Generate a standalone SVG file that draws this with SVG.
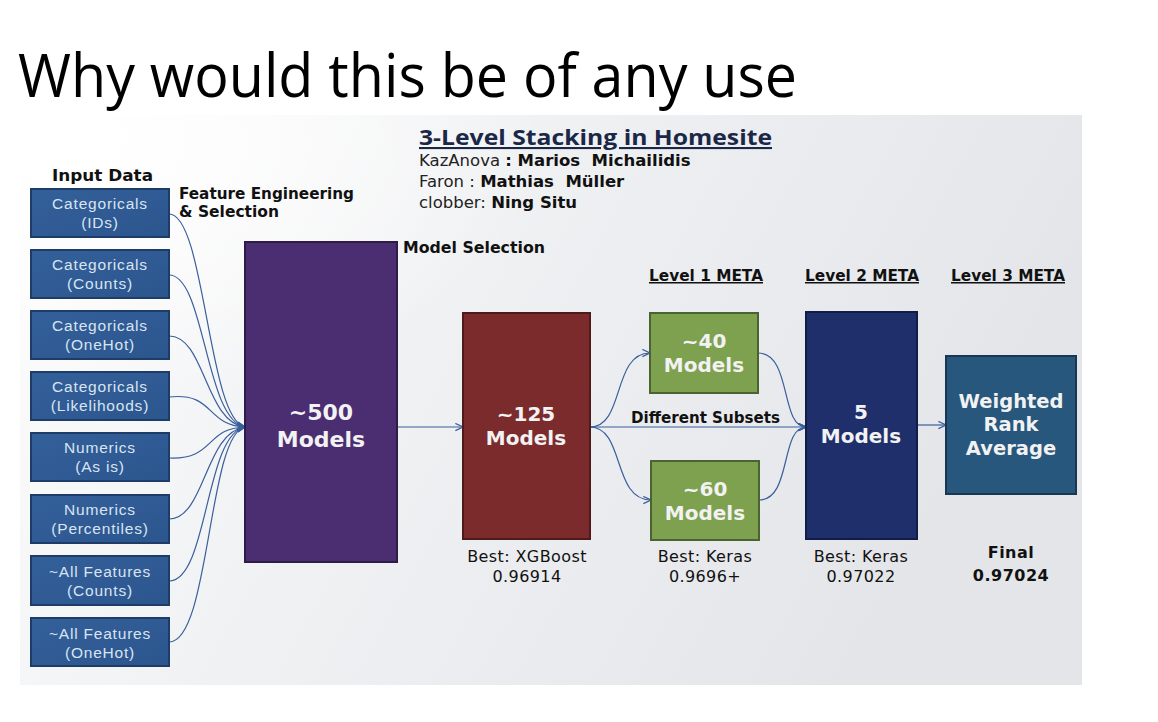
<svg xmlns="http://www.w3.org/2000/svg" width="1158" height="722" viewBox="0 0 1158 722">
  <defs>
    <linearGradient id="panelGrad" x1="0" y1="0" x2="1" y2="0.3">
      <stop offset="0" stop-color="#fdfdfd"/>
      <stop offset="0.45" stop-color="#f0f1f3"/>
      <stop offset="1" stop-color="#e3e5e9"/>
    </linearGradient>
    <radialGradient id="panelFade" cx="0.05" cy="0.05" r="0.45">
      <stop offset="0" stop-color="#ffffff" stop-opacity="1"/>
      <stop offset="1" stop-color="#ffffff" stop-opacity="0"/>
    </radialGradient>
    <linearGradient id="inputGrad" x1="0" y1="0" x2="1" y2="1">
      <stop offset="0" stop-color="#34609a"/>
      <stop offset="1" stop-color="#2b558d"/>
    </linearGradient>
    <marker id="arrow" viewBox="0 0 10 10" refX="9.5" refY="5" markerWidth="9" markerHeight="9" markerUnits="userSpaceOnUse" orient="auto">
      <path d="M1,1 L9.5,5 L1,9" fill="none" stroke="#3a5f9c" stroke-width="1.3"/>
    </marker>
    <style>
      .title { font-family: "Open Sans", "Liberation Sans", sans-serif; font-size: 61px; fill: #000; }
      .head { font-family: "Open Sans", "Liberation Sans", sans-serif; font-weight: bold; font-size: 21px; fill: #1b2747; text-decoration: underline; }
      .credit { font-family: "DejaVu Sans", "Liberation Sans", sans-serif; font-size: 16.5px; fill: #222; }
      .credit tspan.b { font-weight: bold; fill: #111; }
      .lbl { font-family: "DejaVu Sans", "Liberation Sans", sans-serif; font-weight: bold; font-size: 15px; fill: #111; }
      .lvl { font-family: "DejaVu Sans", "Liberation Sans", sans-serif; font-weight: bold; font-size: 15px; fill: #111; text-decoration: underline; }
      .score { font-family: "DejaVu Sans", "Liberation Sans", sans-serif; font-size: 16px; fill: #111; text-anchor: middle; letter-spacing: 0.4px; }
      .scoreb { font-family: "DejaVu Sans", "Liberation Sans", sans-serif; font-weight: bold; font-size: 16px; fill: #111; text-anchor: middle; letter-spacing: 0.5px; }
      .inbox { fill: url(#inputGrad); stroke: #1d3d68; stroke-width: 2; }
      .intext { font-family: "Liberation Sans", "Open Sans", sans-serif; font-size: 15.5px; fill: #d9e4f2; text-anchor: middle; letter-spacing: 0.8px; }
      .big { font-family: "DejaVu Sans", "Liberation Sans", sans-serif; font-weight: bold; fill: #f2f2f2; text-anchor: middle; }
      .wire { fill: none; stroke: #3a5f9c; stroke-width: 1.2; }
    </style>
  </defs>

  <rect width="1158" height="722" fill="#ffffff"/>

  <!-- backdrop panel -->
  <rect x="20" y="115" width="1062" height="570" fill="url(#panelGrad)"/>
  <rect x="20" y="115" width="1062" height="570" fill="url(#panelFade)"/>

  <text class="title" x="18" y="97" textLength="779" lengthAdjust="spacingAndGlyphs">Why would this be of any use</text>

  <!-- heading and credits -->
  <text class="head" x="419" y="145" textLength="353" lengthAdjust="spacingAndGlyphs">3-Level Stacking in Homesite</text>
  <text class="credit" x="419" y="166">KazAnova <tspan class="b">: Marios&#160; Michailidis</tspan></text>
  <text class="credit" x="419" y="187">Faron : <tspan class="b">Mathias&#160; Müller</tspan></text>
  <text class="credit" x="419" y="208">clobber: <tspan class="b">Ning Situ</tspan></text>

  <!-- stage labels -->
  <text class="lbl" x="52" y="181" textLength="101" lengthAdjust="spacingAndGlyphs">Input Data</text>
  <text class="lbl" x="179" y="199" textLength="175" lengthAdjust="spacingAndGlyphs">Feature Engineering</text>
  <text class="lbl" x="179" y="217" textLength="100" lengthAdjust="spacingAndGlyphs">&amp; Selection</text>
  <text class="lbl" x="403" y="253" textLength="142" lengthAdjust="spacingAndGlyphs">Model Selection</text>
  <text class="lvl" x="649" y="281" textLength="114" lengthAdjust="spacingAndGlyphs">Level 1 META</text>
  <text class="lvl" x="805" y="281" textLength="114" lengthAdjust="spacingAndGlyphs">Level 2 META</text>
  <text class="lvl" x="951" y="281" textLength="114" lengthAdjust="spacingAndGlyphs">Level 3 META</text>

  <!-- connectors -->
  <g id="connectors">
    <path class="wire" d="M169,214 C205,214 208,420 245,427" marker-end="url(#arrow)"/>
    <path class="wire" d="M169,275 C205,275 205,420 245,427" marker-end="url(#arrow)"/>
    <path class="wire" d="M169,336 C205,336 205,422 245,427" marker-end="url(#arrow)"/>
    <path class="wire" d="M169,397 C215,392 205,425 245,427" marker-end="url(#arrow)"/>
    <path class="wire" d="M169,458 C215,460 205,428 245,427" marker-end="url(#arrow)"/>
    <path class="wire" d="M169,519 C205,519 205,432 245,427" marker-end="url(#arrow)"/>
    <path class="wire" d="M169,581 C208,581 205,434 245,427" marker-end="url(#arrow)"/>
    <path class="wire" d="M169,642 C210,642 208,434 245,427" marker-end="url(#arrow)"/>
    <path class="wire" d="M397,427 L463,427" marker-end="url(#arrow)"/>
    <path class="wire" d="M590,427 C625,427 612,353 650,353" marker-end="url(#arrow)"/>
    <path class="wire" d="M590,427 C625,427 612,500 651,500" marker-end="url(#arrow)"/>
    <path class="wire" d="M590,427 L806,427" marker-end="url(#arrow)"/>
    <path class="wire" d="M758,353 C792,353 780,427 806,427" marker-end="url(#arrow)"/>
    <path class="wire" d="M759,500 C792,500 780,427 806,427" marker-end="url(#arrow)"/>
    <path class="wire" d="M917,425 L946,425" marker-end="url(#arrow)"/>
  </g>
  <text class="lbl" x="631" y="423" font-size="14" textLength="149" lengthAdjust="spacingAndGlyphs">Different Subsets</text>

  <!-- input feature sets -->
  <g id="in-cat-ids">
    <rect class="inbox" x="31" y="189" width="138" height="48"/>
    <text class="intext" x="100" y="209">Categoricals</text>
    <text class="intext" x="100" y="228">(IDs)</text>
  </g>
  <g id="in-cat-counts">
    <rect class="inbox" x="31" y="250" width="138" height="48"/>
    <text class="intext" x="100" y="270">Categoricals</text>
    <text class="intext" x="100" y="289">(Counts)</text>
  </g>
  <g id="in-cat-onehot">
    <rect class="inbox" x="31" y="311" width="138" height="48"/>
    <text class="intext" x="100" y="331">Categoricals</text>
    <text class="intext" x="100" y="350">(OneHot)</text>
  </g>
  <g id="in-cat-likelihoods">
    <rect class="inbox" x="31" y="372" width="138" height="48"/>
    <text class="intext" x="100" y="392">Categoricals</text>
    <text class="intext" x="100" y="411">(Likelihoods)</text>
  </g>
  <g id="in-num-asis">
    <rect class="inbox" x="31" y="433" width="138" height="48"/>
    <text class="intext" x="100" y="453">Numerics</text>
    <text class="intext" x="100" y="472">(As is)</text>
  </g>
  <g id="in-num-pct">
    <rect class="inbox" x="31" y="495" width="138" height="48"/>
    <text class="intext" x="100" y="515">Numerics</text>
    <text class="intext" x="100" y="534">(Percentiles)</text>
  </g>
  <g id="in-all-counts">
    <rect class="inbox" x="31" y="556" width="138" height="49"/>
    <text class="intext" x="100" y="577">~All Features</text>
    <text class="intext" x="100" y="596">(Counts)</text>
  </g>
  <g id="in-all-onehot">
    <rect class="inbox" x="31" y="618" width="138" height="48"/>
    <text class="intext" x="100" y="639">~All Features</text>
    <text class="intext" x="100" y="658">(OneHot)</text>
  </g>

  <!-- model stages -->
  <g id="m500">
    <rect x="245" y="242" width="152" height="320" fill="#4b2d72" stroke="#2e1b48" stroke-width="2"/>
    <text class="big" x="321" y="420" font-size="22">~500</text>
    <text class="big" x="321" y="447" font-size="22">Models</text>
  </g>
  <g id="m125">
    <rect x="463" y="313" width="127" height="226" fill="#7b2b2c" stroke="#4e1a1a" stroke-width="2"/>
    <text class="big" x="526" y="421" font-size="20">~125</text>
    <text class="big" x="526" y="445" font-size="20">Models</text>
  </g>
  <g id="m40">
    <rect x="650" y="313" width="108" height="80" fill="#7ea150" stroke="#4a6330" stroke-width="2"/>
    <text class="big" x="704" y="348" font-size="20">~40</text>
    <text class="big" x="704" y="372" font-size="20">Models</text>
  </g>
  <g id="m60">
    <rect x="651" y="461" width="108" height="79" fill="#7ea150" stroke="#4a6330" stroke-width="2"/>
    <text class="big" x="705" y="496" font-size="20">~60</text>
    <text class="big" x="705" y="520" font-size="20">Models</text>
  </g>
  <g id="m5">
    <rect x="806" y="312" width="111" height="227" fill="#1f2f6c" stroke="#121c44" stroke-width="2"/>
    <text class="big" x="861" y="419" font-size="20">5</text>
    <text class="big" x="861" y="443" font-size="20">Models</text>
  </g>
  <g id="wra">
    <rect x="946" y="356" width="130" height="138" fill="#27577d" stroke="#173850" stroke-width="2"/>
    <text class="big" x="1011" y="408" font-size="19.5">Weighted</text>
    <text class="big" x="1011" y="431" font-size="19.5">Rank</text>
    <text class="big" x="1011" y="455" font-size="19.5">Average</text>
  </g>

  <!-- scores -->
  <text class="score" x="527" y="562">Best: XGBoost</text>
  <text class="score" x="527" y="582">0.96914</text>
  <text class="score" x="705" y="562">Best: Keras</text>
  <text class="score" x="705" y="582">0.9696+</text>
  <text class="score" x="861" y="562">Best: Keras</text>
  <text class="score" x="861" y="582">0.97022</text>
  <text class="scoreb" x="1011" y="558">Final</text>
  <text class="scoreb" x="1011" y="581">0.97024</text>
</svg>
